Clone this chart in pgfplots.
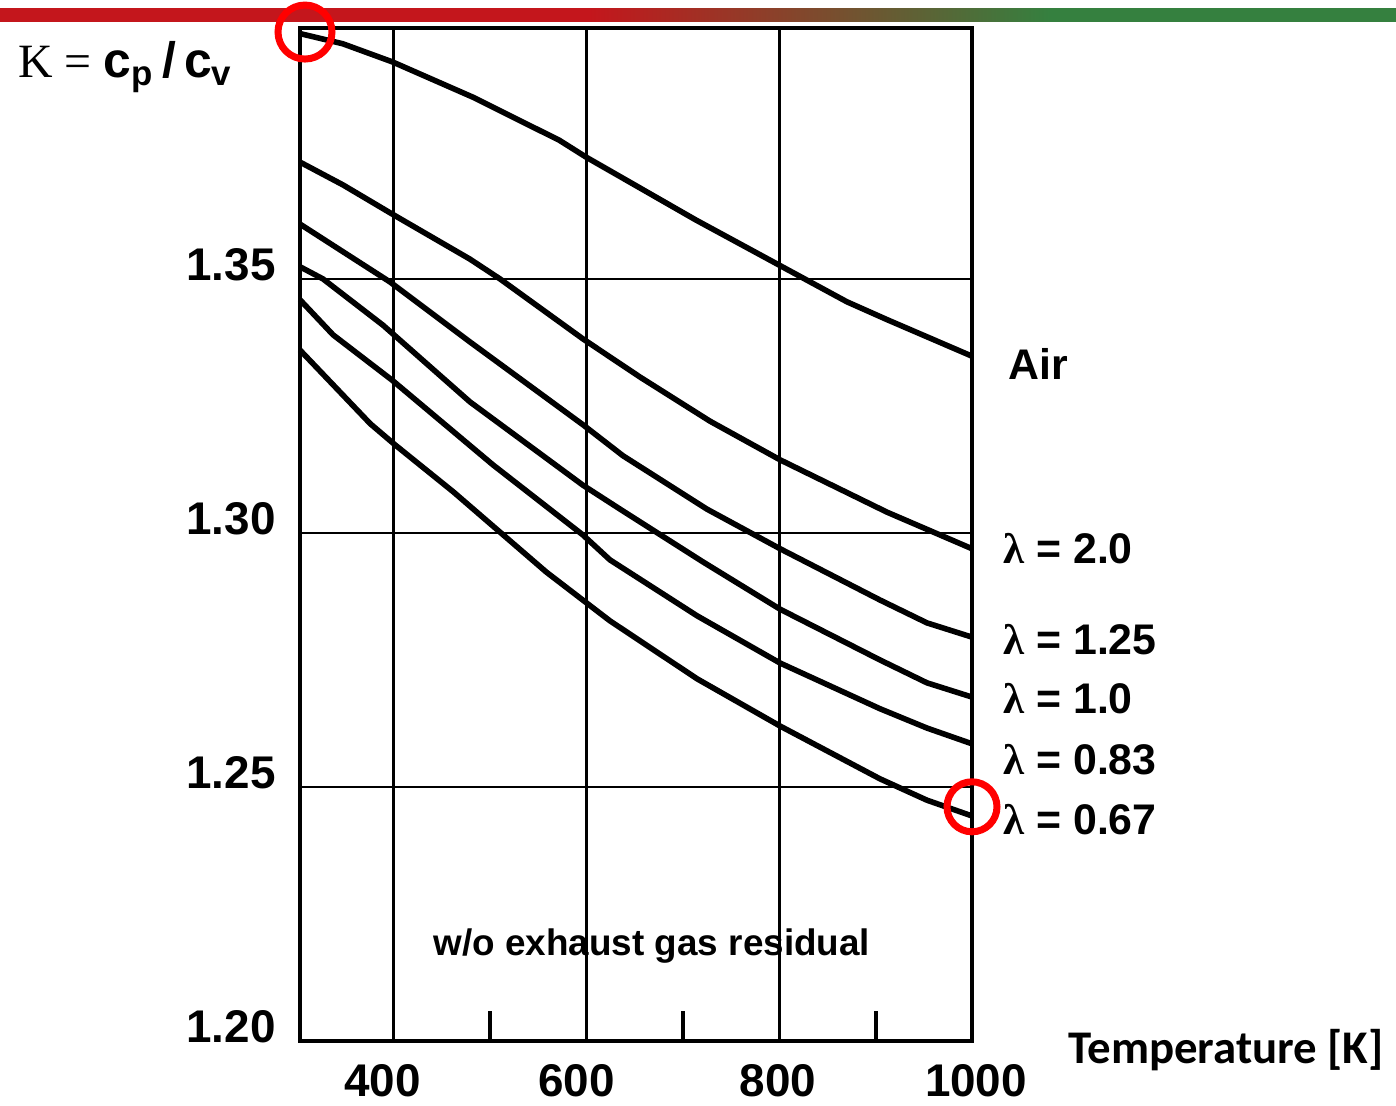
\documentclass[border=0pt]{standalone}
\usepackage{pgfplots}
\pgfplotsset{compat=1.18}
\usepackage{fontspec}
\setmainfont{Liberation Sans}
\newfontfamily\carlito{Carlito}
\newfontfamily\serif{Liberation Serif}
\definecolor{topred}{HTML}{C4161C}
\definecolor{topgreen}{HTML}{35803F}
\pgfdeclarehorizontalshading{topbar}{100bp}{color(0bp)=(topred); color(46.1bp)=(topred); color(62.6bp)=(topgreen); color(100bp)=(topgreen)}
\begin{document}
\begin{tikzpicture}
\path[use as bounding box] (-150bp,-32.5bp) rectangle (548bp,520.5bp);
% top decorative bar
\shade[shading=topbar] (-150bp,509.5bp) rectangle (548bp,516bp);
\begin{axis}[
  width=336bp, height=506.5bp, scale only axis,
  xmin=303, xmax=1000, ymin=1.20, ymax=1.3994,
  axis line style={line width=2.1bp, black},
  xtick={400,600,800,1000}, xticklabels={},
  ytick={1.20,1.25,1.30,1.35}, yticklabels={1.20,1.25,1.30,1.35},
  minor xtick={500,700,900},
  major tick length=0pt, minor tick length=15bp, tick align=inside,
  xtick pos=bottom, ytick pos=left,
  minor tick style={line width=2bp, black},
  grid=major, grid style={line width=1.35bp, black},
  ticklabel style={font=\bfseries\fontsize{23}{23}\selectfont, inner sep=0pt},
  yticklabel style={anchor=east, xshift=-12bp, yshift=7bp},
  clip=false,
]
\addplot[black, line width=2.8bp] coordinates {
 (303,1.3983) (347.3,1.3963) (399.2,1.3927) (482.1,1.3858) (572,1.3773) (599.6,1.3740)
 (713.7,1.3616) (870.3,1.3455) (911.8,1.3420) (1000,1.3348)};
\addplot[black, line width=2.8bp] coordinates {
 (303,1.3730) (347.7,1.3685) (398.4,1.3628) (479.3,1.3539) (510.5,1.3500) (596.5,1.3382)
 (655.6,1.3307) (728.3,1.3220) (800.9,1.3144) (911.8,1.3041) (1000,1.2969)};
\addplot[black, line width=2.8bp] coordinates {
 (303,1.3608) (396.4,1.3494) (479.3,1.3376) (596.5,1.3213) (638,1.3152) (725,1.3047)
 (800.9,1.2969) (904.6,1.2868) (953.3,1.2823) (1000,1.2795)};
\addplot[black, line width=2.8bp] coordinates {
 (303,1.3524) (326.9,1.3500) (389.1,1.3409) (479.3,1.3258) (596.5,1.3094) (634.9,1.3047)
 (721,1.2943) (800.9,1.2850) (904.6,1.2750) (953.3,1.2705) (1000,1.2677)};
\addplot[black, line width=2.8bp] coordinates {
 (303,1.3459) (337.3,1.3390) (398.4,1.3301) (503.2,1.3134) (596.5,1.2996) (624.5,1.2947)
 (714.8,1.2837) (800.9,1.2744) (904.6,1.2654) (953.3,1.2616) (1000,1.2585)};
\addplot[black, line width=2.8bp] coordinates {
 (303,1.3360) (375.9,1.3215) (401.9,1.3173) (462,1.3081) (513.9,1.2996) (558.5,1.2923)
 (624.5,1.2827) (714.8,1.2713) (800.9,1.2620) (904.6,1.2516) (953.3,1.2474) (1000,1.2443)};
% x tick labels
\tikzset{xl/.style={inner sep=0pt, yshift=-20bp, font=\bfseries\fontsize{23}{23}\selectfont}}
\node[xl, xshift=-5.5bp] at (axis cs:400,1.20) {400};
\node[xl, xshift=-5bp] at (axis cs:600,1.20) {600};
\node[xl, xshift=-0.5bp] at (axis cs:800,1.20) {800};
\node[xl, xshift=2bp] at (axis cs:1000,1.20) {1000};
% labels
\tikzset{lab/.style={anchor=west, inner sep=0pt, font=\bfseries\fontsize{21.5}{21.5}\selectfont}}
\node[lab, xshift=18bp] at (axis cs:1000,1.3333) {Air};
\node[lab, xshift=15.5bp] at (axis cs:1000,1.2970) {{\serif λ} = 2.0};
\node[lab, xshift=15.5bp] at (axis cs:1000,1.2791) {{\serif λ} = 1.25};
\node[lab, xshift=15.5bp] at (axis cs:1000,1.2673) {{\serif λ} = 1.0};
\node[lab, xshift=15.5bp] at (axis cs:1000,1.2553) {{\serif λ} = 0.83};
\node[lab, xshift=15.5bp] at (axis cs:1000,1.2435) {{\serif λ} = 0.67};
\node[inner sep=0pt, font=\bfseries\fontsize{18.5}{18.5}\selectfont] at (axis cs:668,1.2187) {w/o exhaust gas residual};
\node[anchor=west, inner sep=0pt, xshift=48bp, font=\carlito\bfseries\fontsize{23.5}{23.5}\selectfont] at (axis cs:1000,1.1982) {Temperature [K]};
% red circles
\draw[red, line width=3.5bp] ([xshift=2.5bp]axis cs:303,1.3986) circle[radius=13.5bp];
\draw[red, line width=3.5bp] (axis cs:1000,1.2461) circle[radius=12.5bp];
\end{axis}
\node[anchor=base west, inner sep=0pt] at (-141bp,481.5bp) {{\serif\fontsize{24}{24}\selectfont K = }{\bfseries\fontsize{25}{25}\selectfont c\textsubscript{p}\,/\,c\textsubscript{v}}};
\end{tikzpicture}
\end{document}
